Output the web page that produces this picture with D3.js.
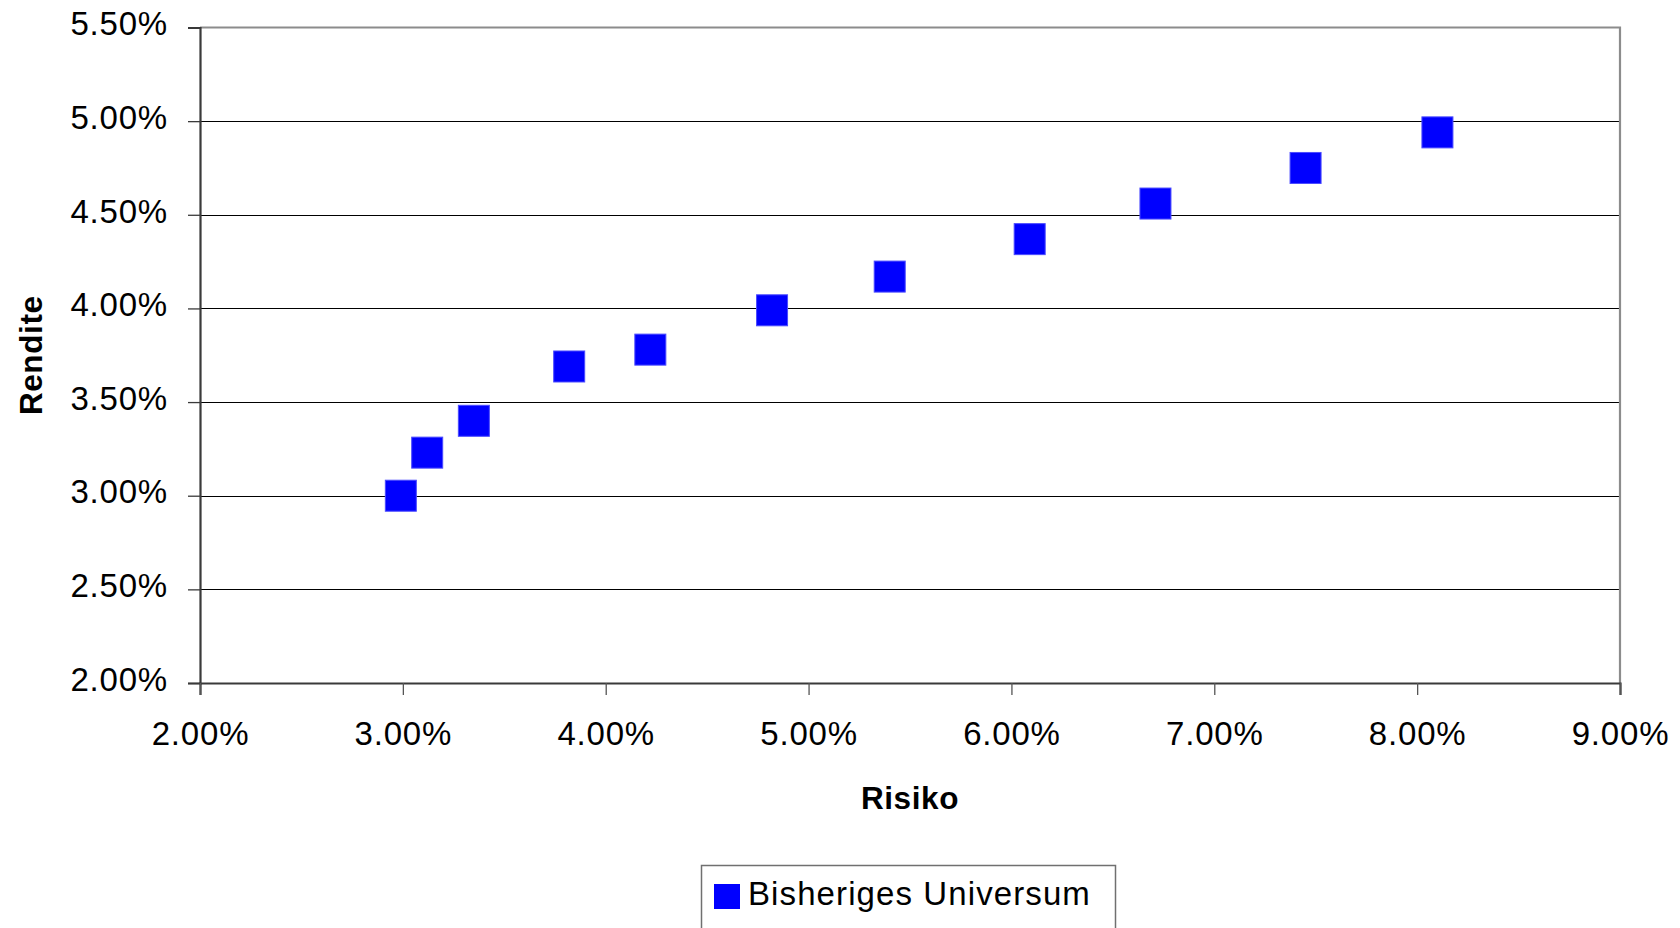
<!DOCTYPE html>
<html>
<head>
<meta charset="utf-8">
<script src="https://cdn.jsdelivr.net/npm/d3@7"></script>
<style>
  html, body { margin: 0; padding: 0; background: #fff; }
  svg { display: block; font-family: "Liberation Sans", Arial, sans-serif; }
</style>
</head>
<body>
<svg id="chart" width="1680" height="928"></svg>
<script>
// Risk / return pairs of the portfolio universe (values in percent)
const seriesName = "Bisheriges Universum";
const risk   = [2.99, 3.12, 3.35, 3.82, 4.22, 4.82, 5.40, 6.09, 6.71, 7.45, 8.10];
const rendite = [3.00, 3.23, 3.40, 3.69, 3.78, 3.99, 4.17, 4.37, 4.56, 4.75, 4.94];
const xTicks = [2, 3, 4, 5, 6, 7, 8, 9];
const yTicks = [2, 2.5, 3, 3.5, 4, 4.5, 5, 5.5];
const xTitle = "Risiko";
const yTitle = "Rendite";

const svg = d3.select("#chart");
const plot = { left: 200, right: 1620, top: 27.5, bottom: 683 };

const x = d3.scaleLinear().domain([2, 9]).range([plot.left, plot.right]);
const y = d3.scaleLinear().domain([2, 5.5]).range([plot.bottom, plot.top]);
const pct = v => d3.format(".2f")(v) + "%";

// horizontal gridlines
svg.append("g")
  .selectAll("line")
  .data(yTicks.filter(t => t > 2 && t < 5.5))
  .join("line")
  .attr("x1", plot.left).attr("x2", plot.right)
  .attr("y1", d => Math.round(y(d)) + 0.5).attr("y2", d => Math.round(y(d)) + 0.5)
  .attr("stroke", "#000").attr("stroke-width", 1);

// top and right frame
svg.append("path")
  .attr("d", `M${plot.left},${plot.top}H${plot.right}V${plot.bottom}`)
  .attr("fill", "none").attr("stroke", "#8c8c8c").attr("stroke-width", 2.2);

// y axis
const yAxis = svg.append("g")
  .attr("transform", `translate(${plot.left},0)`)
  .call(d3.axisLeft(y).tickValues(yTicks).tickFormat(pct).tickSize(12).tickPadding(20));
yAxis.select(".domain").attr("stroke", "#3a3a3a").attr("stroke-width", 2.2);
yAxis.selectAll(".tick line").attr("stroke", "#3a3a3a").attr("stroke-width", 1.3);
yAxis.selectAll(".tick text")
  .attr("font-size", 33).attr("letter-spacing", 0.8).attr("fill", "#000")
  .attr("font-family", "'Liberation Sans', Arial, sans-serif")
  .attr("dy", "0.22em");

// x axis
const xAxis = svg.append("g")
  .attr("transform", `translate(0,${plot.bottom})`)
  .call(d3.axisBottom(x).tickValues(xTicks).tickFormat(pct).tickSize(12).tickPadding(27));
xAxis.select(".domain").attr("stroke", "#3a3a3a").attr("stroke-width", 2.2);
xAxis.selectAll(".tick line").attr("stroke", "#555").attr("stroke-width", 1.3);
xAxis.selectAll(".tick text")
  .attr("font-size", 33).attr("letter-spacing", 0.8).attr("fill", "#000")
  .attr("font-family", "'Liberation Sans', Arial, sans-serif");

// axis titles
svg.append("text")
  .attr("x", (plot.left + plot.right) / 2).attr("y", 809)
  .attr("text-anchor", "middle")
  .attr("font-size", 31.5).attr("font-weight", "bold").attr("letter-spacing", 0.6)
  .text(xTitle);

svg.append("text")
  .attr("transform", `translate(42,${(plot.top + plot.bottom) / 2}) rotate(-90)`)
  .attr("text-anchor", "middle")
  .attr("font-size", 31.5).attr("font-weight", "bold").attr("letter-spacing", 0.6)
  .text(yTitle);

// square markers
const size = 31;
svg.append("g")
  .selectAll("rect")
  .data(risk.map((r, i) => ({ r, v: rendite[i] })))
  .join("rect")
  .attr("x", d => x(d.r) - size / 2)
  .attr("y", d => y(d.v) - size / 2)
  .attr("width", size).attr("height", size)
  .attr("fill", "#0000ff")
  .attr("stroke", "#4a4aff").attr("stroke-width", 1);

// legend
const legend = svg.append("g");
legend.append("rect")
  .attr("x", 701.5).attr("y", 865.5).attr("width", 414).attr("height", 80)
  .attr("fill", "#fff").attr("stroke", "#707070").attr("stroke-width", 1.5);
legend.append("rect")
  .attr("x", 714).attr("y", 884).attr("width", 26).attr("height", 25)
  .attr("fill", "#0000ff");
legend.append("text")
  .attr("x", 748).attr("y", 905)
  .attr("font-size", 33).attr("letter-spacing", 1.1)
  .text(seriesName);
</script>
</body>
</html>
